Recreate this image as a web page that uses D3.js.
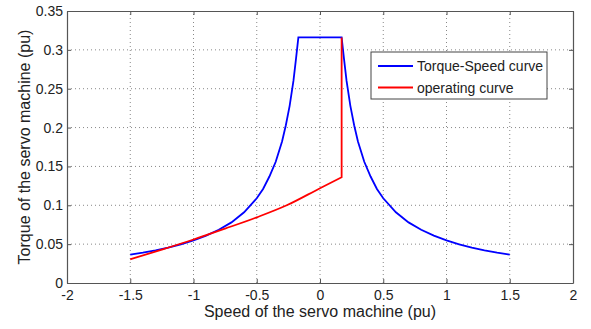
<!DOCTYPE html>
<html>
<head>
<meta charset="utf-8">
<script src="https://d3js.org/d3.v7.min.js"></script>
<style>
  body { margin: 0; background: #fff; }
  svg text { font-family: "Liberation Sans", Arial, sans-serif; fill: #222; }
  .grid line { stroke: #888; stroke-dasharray: 1,3; stroke-width: 1; }
</style>
</head>
<body>
<svg id="chart" width="591" height="329"></svg>
<script>
// values
const xTicks = [-2, -1.5, -1, -0.5, 0, 0.5, 1, 1.5, 2];
const yTicks = [0, 0.05, 0.1, 0.15, 0.2, 0.25, 0.3, 0.35];

const torqueSpeedX = [-1.5, -1.4, -1.3, -1.2, -1.1, -1, -0.9, -0.8, -0.7, -0.6, -0.5, -0.45, -0.4, -0.35, -0.3, -0.27, -0.24, -0.21, -0.19, -0.171,
  0.171, 0.19, 0.21, 0.24, 0.27, 0.3, 0.35, 0.4, 0.45, 0.5, 0.6, 0.7, 0.8, 0.9, 1, 1.1, 1.2, 1.3, 1.4, 1.5];
const torqueSpeedY = [0.0365, 0.039, 0.042, 0.0455, 0.0497, 0.0548, 0.061, 0.0685, 0.078, 0.091, 0.109, 0.121, 0.137, 0.156, 0.182, 0.203, 0.228, 0.26, 0.288, 0.316,
  0.316, 0.288, 0.26, 0.228, 0.203, 0.182, 0.156, 0.137, 0.121, 0.109, 0.091, 0.078, 0.0685, 0.061, 0.0548, 0.0497, 0.0455, 0.042, 0.039, 0.0365];

const operatingX = [-1.5, -1.25, -1, -0.75, -0.5, -0.263, 0, 0.171, 0.171];
const operatingY = [0.0305, 0.043, 0.056, 0.07, 0.0845, 0.1, 0.122, 0.136, 0.316];

const legendLabels = ["Torque-Speed curve", "operating curve"];
const colors = ["#0000ff", "#ff0000"];

const margin = { left: 67, right: 18, top: 11, bottom: 46 };
const W = 591, H = 329;
const svg = d3.select("#chart");

const x = d3.scaleLinear().domain([-2, 2]).range([margin.left, W - margin.right]);
const y = d3.scaleLinear().domain([0, 0.35]).range([H - margin.bottom, margin.top]);

// grid
const grid = svg.append("g").attr("class", "grid");
grid.selectAll(".gx").data(xTicks.slice(1, -1)).enter().append("line")
  .attr("x1", d => x(d)).attr("x2", d => x(d))
  .attr("y1", y(0)).attr("y2", y(0.35));
grid.selectAll(".gy").data(yTicks.slice(1, -1)).enter().append("line")
  .attr("y1", d => y(d)).attr("y2", d => y(d))
  .attr("x1", x(-2)).attr("x2", x(2));

// axes with inward ticks, matlab style
const fmt = d => String(d);
const axB = svg.append("g").attr("transform", `translate(0,${y(0)})`)
  .call(d3.axisBottom(x).tickValues(xTicks).tickSizeInner(-4).tickSizeOuter(0).tickPadding(7).tickFormat(fmt));
const axT = svg.append("g").attr("transform", `translate(0,${y(0.35)})`)
  .call(d3.axisTop(x).tickValues(xTicks).tickSizeInner(-4).tickSizeOuter(0).tickFormat(""));
const axL = svg.append("g").attr("transform", `translate(${x(-2)},0)`)
  .call(d3.axisLeft(y).tickValues(yTicks).tickSizeInner(-4).tickSizeOuter(0).tickPadding(4).tickFormat(fmt));
const axR = svg.append("g").attr("transform", `translate(${x(2)},0)`)
  .call(d3.axisRight(y).tickValues(yTicks).tickSizeInner(-4).tickSizeOuter(0).tickFormat(""));
[axB, axT, axL, axR].forEach(a => {
  a.selectAll("path").attr("stroke", "#555").attr("stroke-width", 1.2);
  a.selectAll("line").attr("stroke", "#555");
  a.selectAll("text").style("font-size", "14px").attr("fill", "#222");
});

// curves
const line = d3.line().x(d => x(d[0])).y(d => y(d[1]));
const smooth = d3.line().x(d => x(d[0])).y(d => y(d[1])).curve(d3.curveMonotoneX);
svg.append("path")
  .attr("d", line(d3.zip(torqueSpeedX, torqueSpeedY)))
  .attr("fill", "none").attr("stroke", colors[0]).attr("stroke-width", 1.8);
const op = d3.zip(operatingX, operatingY);
svg.append("path")
  .attr("d", smooth(op.slice(0, -1)) + line(op.slice(-2)).replace("M", "L"))
  .attr("fill", "none").attr("stroke", colors[1]).attr("stroke-width", 1.8)
  .attr("stroke-linejoin", "miter");

// legend
const lg = svg.append("g").attr("transform", "translate(371,52)");
lg.append("rect").attr("width", 176).attr("height", 47)
  .attr("fill", "#fff").attr("stroke", "#444").attr("stroke-width", 1);
legendLabels.forEach((t, i) => {
  const yy = 14 + i * 21.5;
  lg.append("line").attr("x1", 7).attr("x2", 42).attr("y1", yy).attr("y2", yy)
    .attr("stroke", colors[i]).attr("stroke-width", 1.8);
  lg.append("text").attr("x", 46).attr("y", yy + 5).style("font-size", "14px").text(t);
});

// axis titles
svg.append("text").attr("x", x(0)).attr("y", 317).attr("text-anchor", "middle")
  .style("font-size", "16px").text("Speed of the servo machine (pu)");
svg.append("text").attr("transform", `translate(30,${(y(0) + y(0.35)) / 2}) rotate(-90)`)
  .attr("text-anchor", "middle").style("font-size", "16px").text("Torque of the servo machine (pu)");
</script>
</body>
</html>
